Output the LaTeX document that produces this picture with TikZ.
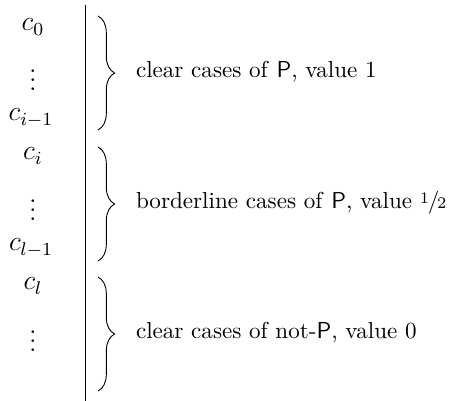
\documentclass[tikz,border=0pt]{standalone}
\usetikzlibrary{decorations.pathreplacing}
\newcommand{\half}{\raisebox{.6ex}{\scriptsize 1}\kern-.05em/\kern-.1em{\scriptsize 2}}
\begin{document}
\begin{tikzpicture}[x=0.433pt,y=-0.433pt,
	case/.style={anchor=base,inner sep=0,outer sep=0,font=\large},
	vdotsbox/.style={anchor=base,inner sep=0,outer sep=0,font=\large},
	grp/.style={decorate,decoration={brace,amplitude=7.2pt}},
	note/.style={anchor=mid west,inner sep=0,outer sep=0}]
	\useasboundingbox (0,0) rectangle (450,401);
	% left column
	\node[case] (c0) at (33,31) {$c_0$};
	\node[vdotsbox] (d1) at (33,91) {$\vdots$};
	\node[case] (ci1) at (31,121) {$c_{i-1}$};
	\node[case] (ci) at (33,160) {$c_i$};
	\node[vdotsbox] (d2) at (33,221) {$\vdots$};
	\node[case] (cl1) at (31,251) {$c_{l-1}$};
	\node[case] (cl) at (33,290) {$c_l$};
	\node[vdotsbox] (d3) at (33,352) {$\vdots$};
	% separator
	\coordinate (top) at (85,5);
	\coordinate (bot) at (85,401);
	\draw (top) -- (bot);
	% braces
	\coordinate (b1t) at (98,16);  \coordinate (b1b) at (98,130);
	\coordinate (b2t) at (98,147); \coordinate (b2b) at (98,261);
	\coordinate (b3t) at (98,277); \coordinate (b3b) at (98,391);
	\draw[grp] (b1t) -- (b1b);
	\draw[grp] (b2t) -- (b2b);
	\draw[grp] (b3t) -- (b3b);
	% labels
	\node[note] (t1) at (136,73) {clear cases of \textsf{P}, value 1};
	\node[note] (t2) at (136,204) {borderline cases of \textsf{P}, value \half};
	\node[note] (t3) at (136,334) {clear cases of not-\textsf{P}, value 0};
\end{tikzpicture}
\end{document}
